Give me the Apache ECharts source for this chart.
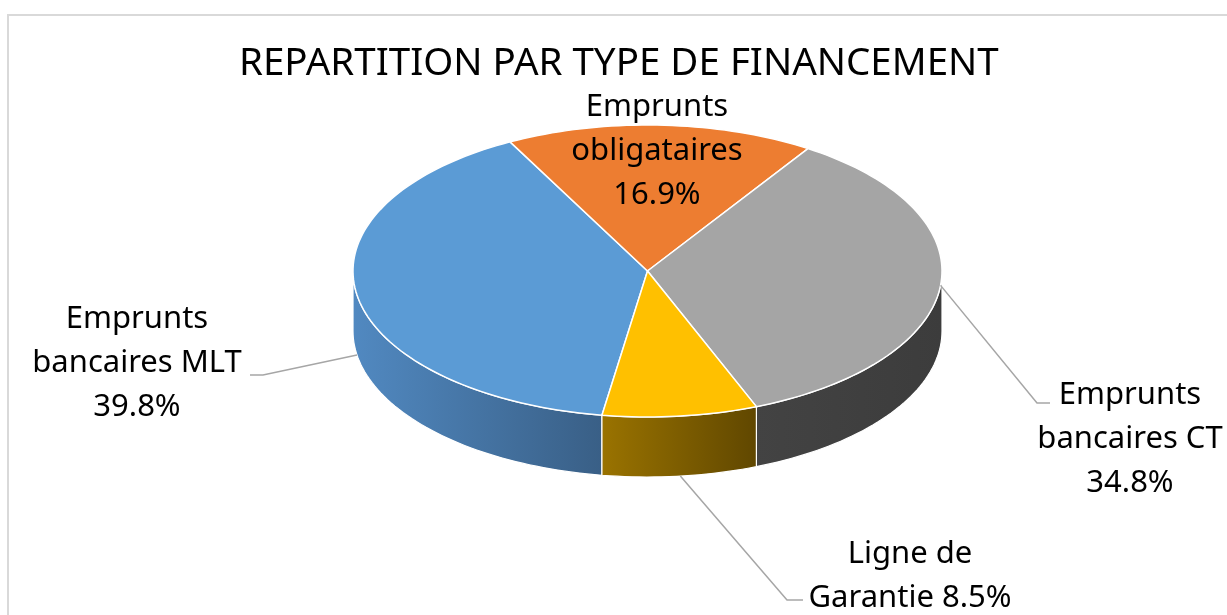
<!DOCTYPE html>
<html>
<head>
<meta charset="utf-8">
<script src="https://cdn.jsdelivr.net/npm/echarts@6/dist/echarts.min.js"></script>
<style>
  html, body { margin: 0; padding: 0; background: #fff; }
  #main { width: 1227px; height: 615px; }
</style>
</head>
<body>
<div id="main"></div>
<script>
// data
const categories = ['Emprunts bancaires MLT', 'Emprunts obligataires', 'Emprunts bancaires CT', 'Ligne de Garantie'];
const values = [39.8, 16.9, 34.8, 8.5];
const labelNames = ['Emprunts\nbancaires MLT', 'Emprunts\nobligataires', 'Emprunts\nbancaires CT', 'Ligne de\nGarantie'];
const pctSeparators = ['\n', '\n', '\n', ' '];

// styles
const topColors = ['#5B9BD5', '#ED7D31', '#A5A5A5', '#FFC000'];
const sideColors = [['#5189c1', '#395f86'], ['#b05a20', '#8a4518'], ['#434343', '#3c3c3c'], ['#9a7300', '#604700']];
const FONT = '"Noto Sans", sans-serif';

// 3d pie geometry (Excel style tilted pie)
const CX = 647.5, CY = 271, RX = 294.5, RY = 146, DEPTH = 60;
const START = 188.9; // degrees, clockwise from 12 o'clock

// label placement: text centre, leader bend + end, anchor on top edge (0) or bottom edge (1)
const labelLayout = [
  { x: 137, y: 363, line: [[263, 375], [250, 375]], anchorDepth: 1 },
  { x: 657, y: 151, line: null, anchorDepth: 0 },
  { x: 1130, y: 439, line: [[1037, 403], [1050, 403]], anchorDepth: 0 },
  { x: 910, y: 576, line: [[787, 600], [803, 600]], anchorDepth: 1 }
];

const total = values.reduce((a, b) => a + b, 0);

function sliceAngles(i) {
  let a = START;
  for (let k = 0; k < i; k++) a += values[k] / total * 360;
  return [a, a + values[i] / total * 360];
}

function pt(deg, dy) {
  const r = deg * Math.PI / 180;
  return [CX + RX * Math.sin(r), CY - RY * Math.cos(r) + (dy || 0)];
}

function arc(a0, a1, dy) {
  const n = Math.max(2, Math.ceil(Math.abs(a1 - a0) / 1.5));
  const pts = [];
  for (let j = 0; j <= n; j++) pts.push(pt(a0 + (a1 - a0) * j / n, dy));
  return pts;
}

function renderSide(params) {
  const i = params.dataIndex;
  const [a0, a1] = sliceAngles(i);
  const children = [];
  [-360, 0, 360].forEach(function (k) {
    const lo = Math.max(a0, 90 + k), hi = Math.min(a1, 270 + k);
    if (lo < hi) {
      const pts = arc(lo, hi, 0).concat(arc(lo, hi, DEPTH).reverse());
      children.push({
        type: 'polygon',
        shape: { points: pts },
        style: {
          fill: new echarts.graphic.LinearGradient(0, 0, 1, 0, [
            { offset: 0, color: sideColors[i][0] },
            { offset: 1, color: sideColors[i][1] }
          ]),
          stroke: '#ffffff',
          lineWidth: 1.2
        }
      });
    }
  });
  return { type: 'group', children: children };
}

function renderTop(params) {
  const i = params.dataIndex;
  const [a0, a1] = sliceAngles(i);
  const pts = [[CX, CY]].concat(arc(a0, a1, 0));
  const lay = labelLayout[i];
  const children = [{
    type: 'polygon',
    shape: { points: pts },
    style: { fill: topColors[i], stroke: '#ffffff', lineWidth: 1.5 }
  }];
  if (lay.line) {
    const anchor = pt((a0 + a1) / 2, lay.anchorDepth * DEPTH);
    children.push({
      type: 'polyline',
      shape: { points: [anchor].concat(lay.line) },
      style: { stroke: '#a6a6a6', lineWidth: 1.5, fill: null }
    });
  }
  children.push({
    type: 'text',
    x: lay.x,
    y: lay.y,
    style: {
      text: labelNames[i] + pctSeparators[i] + values[i].toFixed(1) + '%',
      fontFamily: FONT,
      fontSize: 31,
      lineHeight: 44,
      fill: '#000000',
      align: 'center',
      verticalAlign: 'middle'
    }
  });
  return { type: 'group', children: children };
}

const chart = echarts.init(document.getElementById('main'), null, { renderer: 'canvas' });

const option = {
  backgroundColor: '#ffffff',
  animation: false,
  title: {
    text: 'REPARTITION PAR TYPE DE FINANCEMENT',
    left: 239,
    top: 45,
    padding: 0,
    textStyle: { fontFamily: FONT, fontSize: 38.5, fontWeight: 'normal', color: '#000000' }
  },
  graphic: [{
    type: 'rect',
    shape: { x: 8, y: 15, width: 1400, height: 800 },
    style: { fill: null, stroke: '#d9d9d9', lineWidth: 2 },
    z: -1
  }],
  series: [
    {
      type: 'custom',
      name: 'sides',
      coordinateSystem: 'none',
      data: values.map((v, i) => ({ name: categories[i], value: v })),
      renderItem: renderSide,
      z: 1
    },
    {
      type: 'custom',
      name: 'tops',
      coordinateSystem: 'none',
      data: values.map((v, i) => ({ name: categories[i], value: v })),
      renderItem: renderTop,
      z: 2
    }
  ]
};

chart.setOption(option);
</script>
</body>
</html>
